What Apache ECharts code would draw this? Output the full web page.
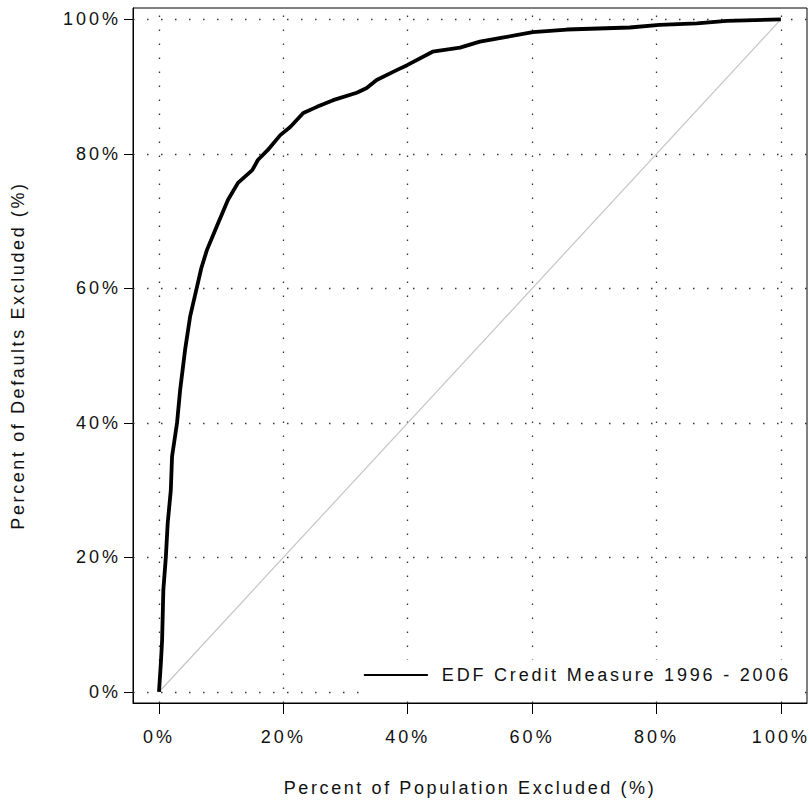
<!DOCTYPE html>
<html>
<head>
<meta charset="utf-8">
<script src="https://cdn.jsdelivr.net/npm/echarts@6/dist/echarts.min.js"></script>
<style>
  html, body { margin: 0; padding: 0; background: #fff; }
  #chart { width: 809px; height: 806px; }
  /* the original uses a widely spaced bitmap font */
  #chart svg text { letter-spacing: 3px; }
  #chart svg text[style*="Arial"], #chart svg text[font-family*="Arial"] { letter-spacing: 2.6px; }
  #chart svg text[style*="Helvetica"], #chart svg text[font-family*="Helvetica"] { letter-spacing: 2.8px; }
</style>
</head>
<body>
<div id="chart"></div>
<script>
// ROC curve (percent)
const popExcluded = [0, 0.3, 0.5, 0.7, 1.1, 1.4, 1.9, 2.1, 2.9, 3.4, 4.2, 5.0, 6.1, 6.8, 7.7, 9.5, 11.1, 12.7, 15.0, 15.9, 17.5, 19.5, 21.1, 23.2, 25.4, 28.0, 31.8, 33.4, 35.0, 38.3, 39.9, 44.0, 48.4, 51.6, 55.9, 60.1, 65.6, 75.7, 80.5, 86.5, 91.3, 100];
const defaultsExcluded = [0, 4.3, 7.7, 15.2, 20.0, 25.1, 30.0, 35.0, 40.0, 44.9, 50.9, 55.8, 60.2, 63.0, 65.7, 69.7, 73.2, 75.7, 77.6, 79.1, 80.6, 82.8, 84.0, 86.1, 87.0, 88.0, 89.1, 89.8, 91.0, 92.5, 93.2, 95.2, 95.8, 96.7, 97.4, 98.1, 98.5, 98.8, 99.2, 99.4, 99.8, 100];
const diagX = [0, 100];
const diagY = [0, 100];
const xTicks = [0, 20, 40, 60, 80, 100];
const yTicks = [0, 20, 40, 60, 80, 100];
const seriesName = "EDF Credit Measure 1996 - 2006";

const labelFont = "Liberation Sans";
const titleFont = "Liberation Sans, Arial";
const legendFont = "Liberation Sans, Helvetica";
const textColor = "#111";
const chart = echarts.init(document.getElementById("chart"), null, { renderer: "svg" });

const option = {
  backgroundColor: "#fff",
  animation: false,
  grid: {
    left: 133,
    right: 2,
    top: 8,
    bottom: 103,
    outerBoundsMode: "none",
    show: true,
    borderColor: "#000",
    borderWidth: 1,
  },
  legend: {
    data: [{ name: seriesName, icon: "rect" }],
    right: 12,
    bottom: 107,
    itemWidth: 64,
    itemHeight: 2,
    backgroundColor: "#fff",
    padding: [5, 90, 14, 4],
    itemStyle: { color: "#000" },
    z: 10,
    textStyle: {
      fontFamily: legendFont,
      fontSize: 18,
      lineHeight: 20,
      color: textColor,
      padding: [0, 0, 0, 9],
    },
  },
  xAxis: {
    type: "value",
    min: -4.18,
    max: 104.2,
    name: "Percent of Population Excluded (%)",
    nameLocation: "middle",
    nameGap: 76,
    nameTextStyle: { fontFamily: titleFont, fontSize: 18, color: textColor },
    axisLine: { show: true, onZero: false, lineStyle: { color: "#000", width: 1 } },
    axisTick: { show: true, length: 11, customValues: xTicks, lineStyle: { color: "#000", width: 1 } },
    axisLabel: {
      customValues: xTicks,
      margin: 25,
      fontFamily: labelFont,
      fontSize: 18,
      color: textColor,
      formatter: (v) => v + "%",
    },
    splitLine: { show: false },
  },
  yAxis: {
    type: "value",
    min: -1.64,
    max: 101.7,
    name: "Percent of Defaults Excluded (%)",
    nameLocation: "middle",
    nameGap: 106,
    nameRotate: 90,
    nameTextStyle: { fontFamily: titleFont, fontSize: 18, color: textColor },
    axisLine: { show: true, onZero: false, lineStyle: { color: "#000", width: 1 } },
    axisTick: { show: true, length: 9, customValues: yTicks, lineStyle: { color: "#000", width: 1 } },
    axisLabel: {
      customValues: yTicks,
      margin: 12,
      fontFamily: labelFont,
      fontSize: 18,
      color: textColor,
      formatter: (v) => v + "%",
    },
    splitLine: { show: false },
  },
  series: [
    {
      name: "diagonal",
      type: "line",
      symbol: "none",
      silent: true,
      data: diagX.map((x, i) => [x, diagY[i]]),
      lineStyle: { color: "#c4c4c4", width: 1.2 },
      z: 1,
      markLine: {
        silent: true,
        z: 1,
        symbol: "none",
        label: { show: false },
        lineStyle: { color: "#333", width: 1.3, type: [1.5, 12.5] },
        data: xTicks.map((v) => ({ xAxis: v })).concat(yTicks.map((v) => ({ yAxis: v }))),
      },
    },
    {
      name: seriesName,
      type: "line",
      symbol: "none",
      data: popExcluded.map((x, i) => [x, defaultsExcluded[i]]),
      lineStyle: { color: "#000", width: 3.8 },
      itemStyle: { color: "#000" },
      z: 3,
    },
  ],
};

chart.setOption(option);
</script>
</body>
</html>
